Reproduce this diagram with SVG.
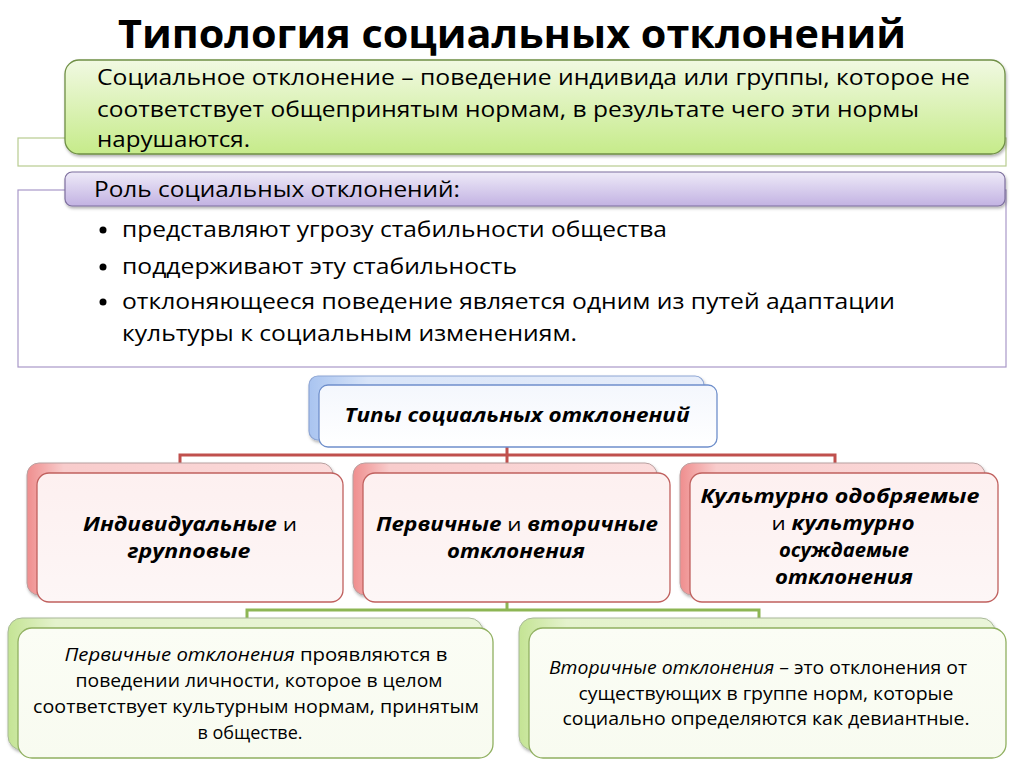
<svg xmlns="http://www.w3.org/2000/svg" width="1024" height="767" viewBox="0 0 1024 767">
<style>
.t{font-family:"Open Sans","Liberation Sans",sans-serif;fill:#000}
.b{font-weight:bold}
.i{font-style:italic}
.c{text-anchor:middle}
</style>
<defs>
<linearGradient id="gG" x1="0" y1="0" x2="0" y2="1"><stop offset="0" stop-color="#f1f9e2"/><stop offset="1" stop-color="#c6eb8a"/></linearGradient>
<linearGradient id="gP" x1="0" y1="0" x2="0" y2="1"><stop offset="0" stop-color="#eeeaf8"/><stop offset="1" stop-color="#c2b2e2"/></linearGradient>
<linearGradient id="gB" x1="0" y1="0" x2="1" y2="0"><stop offset="0" stop-color="#a9c4f0"/><stop offset="0.15" stop-color="#d8e4f8"/><stop offset="1" stop-color="#e8eefa"/></linearGradient>
<linearGradient id="gBf" x1="0" y1="0" x2="0" y2="1"><stop offset="0" stop-color="#f4f7fd"/><stop offset="1" stop-color="#ffffff"/></linearGradient>
<linearGradient id="gR" x1="0" y1="0" x2="1" y2="0"><stop offset="0" stop-color="#ef8e8e"/><stop offset="0.12" stop-color="#f8cccc"/><stop offset="1" stop-color="#fbdcdc"/></linearGradient>
<linearGradient id="gRf" x1="0" y1="0" x2="0" y2="1"><stop offset="0" stop-color="#fdf0f0"/><stop offset="1" stop-color="#fdf6f6"/></linearGradient>
<linearGradient id="gL" x1="0" y1="0" x2="1" y2="0"><stop offset="0" stop-color="#c4e494"/><stop offset="0.1" stop-color="#e4f2cc"/><stop offset="1" stop-color="#eaf5d8"/></linearGradient>
<linearGradient id="gLf" x1="0" y1="0" x2="0" y2="1"><stop offset="0" stop-color="#fbfdf5"/><stop offset="1" stop-color="#f8fbf0"/></linearGradient>
<filter id="sh" x="-5%" y="-10%" width="110%" height="130%"><feDropShadow dx="1" dy="2" stdDeviation="1.5" flood-color="#000" flood-opacity="0.3"/></filter>
</defs>
<rect width="1024" height="767" fill="#ffffff"/>

<g id="title">
<text class="t b c" x="512" y="48" font-size="40" textLength="788" lengthAdjust="spacingAndGlyphs">Типология социальных отклонений</text>
</g>

<g id="definition">
<rect x="18" y="138" width="988" height="28" fill="#fff" stroke="#b8cc90" stroke-width="1.2"/>
<rect x="65" y="60" width="940" height="94" rx="14" fill="url(#gG)" stroke="#6f8f45" stroke-width="1.3" filter="url(#sh)"/>
<text class="t" x="97" y="85" font-size="22" textLength="873" lengthAdjust="spacingAndGlyphs">Социальное отклонение – поведение индивида или группы, которое не</text>
<text class="t" x="97" y="117" font-size="22" textLength="822" lengthAdjust="spacingAndGlyphs">соответствует общепринятым нормам, в результате чего эти нормы</text>
<text class="t" x="97" y="147" font-size="22" textLength="153" lengthAdjust="spacingAndGlyphs">нарушаются.</text>
</g>

<g id="role">
<rect x="18" y="190" width="988" height="177" fill="#fff" stroke="#a898c8" stroke-width="1.2"/>
<rect x="65" y="172" width="940" height="34" rx="7" fill="url(#gP)" stroke="#7d6f9e" stroke-width="1.2" filter="url(#sh)"/>
<text class="t" x="94" y="197" font-size="22" textLength="366" lengthAdjust="spacingAndGlyphs">Роль социальных отклонений:</text>
<circle cx="103" cy="230" r="3.5" fill="#000"/>
<text class="t" x="122" y="237" font-size="22" textLength="545" lengthAdjust="spacingAndGlyphs">представляют угрозу стабильности общества</text>
<circle cx="103" cy="267" r="3.5" fill="#000"/>
<text class="t" x="122" y="274" font-size="22" textLength="395" lengthAdjust="spacingAndGlyphs">поддерживают эту стабильность</text>
<circle cx="103" cy="302" r="3.5" fill="#000"/>
<text class="t" x="122" y="309" font-size="22" textLength="773" lengthAdjust="spacingAndGlyphs">отклоняющееся поведение является одним из путей адаптации</text>
<text class="t" x="122" y="341" font-size="22" textLength="455" lengthAdjust="spacingAndGlyphs">культуры к социальным изменениям.</text>
</g>

<g id="connectors" fill="none" stroke-width="3">
<path d="M507 447 V455 M180 463 V455 H835 V463 M507 455 V463" stroke="#c0504d"/>
<path d="M507 602 V610 M247 618 V610 H759 V618" stroke="#8db654"/>
</g>

<g id="types">
<rect x="309" y="376" width="395" height="64" rx="9" fill="url(#gB)" stroke="#8ea6d4" stroke-width="1.2" filter="url(#sh)"/>
<rect x="319" y="385" width="398" height="62" rx="9" fill="url(#gBf)" stroke="#6f8fcb" stroke-width="1.3"/>
<text class="t b i c" x="517" y="422" font-size="19" textLength="345" lengthAdjust="spacingAndGlyphs">Типы социальных отклонений</text>
</g>

<g id="individual">
<rect x="27" y="463" width="306" height="132" rx="12" fill="url(#gR)" stroke="#b8a0a0" stroke-width="1" filter="url(#sh)"/>
<rect x="37" y="473" width="306" height="129" rx="12" fill="url(#gRf)" stroke="#c0605e" stroke-width="1.3"/>
<text class="t c" x="190" y="531" font-size="19" textLength="214" lengthAdjust="spacingAndGlyphs"><tspan class="b i">Индивидуальные</tspan> и</text>
<text class="t b i c" x="189" y="558" font-size="19" textLength="123" lengthAdjust="spacingAndGlyphs">групповые</text>
</g>

<g id="primary-secondary">
<rect x="353" y="463" width="304" height="132" rx="12" fill="url(#gR)" stroke="#b8a0a0" stroke-width="1" filter="url(#sh)"/>
<rect x="363" y="473" width="307" height="129" rx="12" fill="url(#gRf)" stroke="#c0605e" stroke-width="1.3"/>
<text class="t c" x="517" y="531" font-size="19" textLength="282" lengthAdjust="spacingAndGlyphs"><tspan class="b i">Первичные</tspan> и <tspan class="b i">вторичные</tspan></text>
<text class="t b i c" x="516" y="558" font-size="19" textLength="138" lengthAdjust="spacingAndGlyphs">отклонения</text>
</g>

<g id="cultural">
<rect x="680" y="463" width="305" height="132" rx="12" fill="url(#gR)" stroke="#b8a0a0" stroke-width="1" filter="url(#sh)"/>
<rect x="690" y="473" width="308" height="129" rx="12" fill="url(#gRf)" stroke="#c0605e" stroke-width="1.3"/>
<text class="t b i c" x="840" y="503" font-size="19" textLength="279" lengthAdjust="spacingAndGlyphs">Культурно одобряемые</text>
<text class="t c" x="843" y="530" font-size="19" textLength="143" lengthAdjust="spacingAndGlyphs">и <tspan class="b i">культурно</tspan></text>
<text class="t b i c" x="844" y="557" font-size="19" textLength="130" lengthAdjust="spacingAndGlyphs">осуждаемые</text>
<text class="t b i c" x="844" y="584" font-size="19" textLength="138" lengthAdjust="spacingAndGlyphs">отклонения</text>
</g>

<g id="primary-def">
<rect x="8" y="618" width="475" height="132" rx="14" fill="url(#gL)" stroke="#a8b898" stroke-width="1" filter="url(#sh)"/>
<rect x="18" y="628" width="475" height="130" rx="14" fill="url(#gLf)" stroke="#90b060" stroke-width="1.3"/>
<text class="t c" x="256" y="661" font-size="18" textLength="383" lengthAdjust="spacingAndGlyphs"><tspan class="i">Первичные отклонения</tspan> проявляются в</text>
<text class="t c" x="259" y="687" font-size="18" textLength="367" lengthAdjust="spacingAndGlyphs">поведении личности, которое в целом</text>
<text class="t c" x="256" y="713" font-size="18" textLength="446" lengthAdjust="spacingAndGlyphs">соответствует культурным нормам, принятым</text>
<text class="t c" x="250" y="739" font-size="18" textLength="105" lengthAdjust="spacingAndGlyphs">в обществе.</text>
</g>

<g id="secondary-def">
<rect x="519" y="618" width="476" height="132" rx="14" fill="url(#gL)" stroke="#a8b898" stroke-width="1" filter="url(#sh)"/>
<rect x="529" y="628" width="477" height="130" rx="14" fill="url(#gLf)" stroke="#90b060" stroke-width="1.3"/>
<text class="t c" x="758" y="674" font-size="18" textLength="418" lengthAdjust="spacingAndGlyphs"><tspan class="i">Вторичные отклонения</tspan> – это отклонения от</text>
<text class="t c" x="766" y="700" font-size="18" textLength="375" lengthAdjust="spacingAndGlyphs">существующих в группе норм, которые</text>
<text class="t c" x="766" y="725" font-size="18" textLength="407" lengthAdjust="spacingAndGlyphs">социально определяются как девиантные.</text>
</g>
</svg>
